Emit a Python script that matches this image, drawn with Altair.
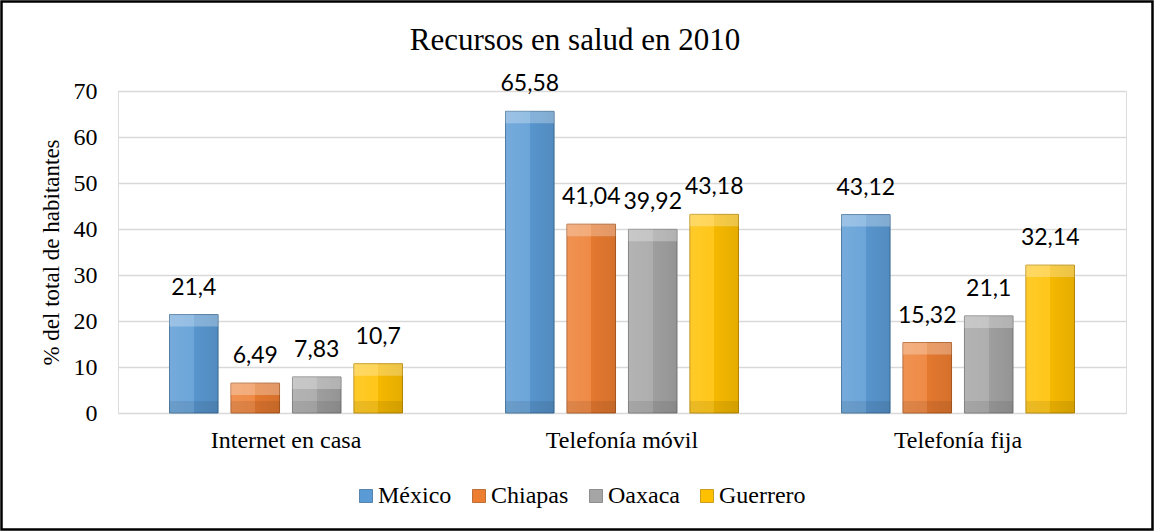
import altair as alt
import pandas as pd

categories = ["Internet en casa", "Telefonía móvil", "Telefonía fija"]
series = ["México", "Chiapas", "Oaxaca", "Guerrero"]
mexico = [21.4, 65.58, 43.12]
chiapas = [6.49, 41.04, 15.32]
oaxaca = [7.83, 39.92, 21.1]
guerrero = [10.7, 43.18, 32.14]
colors = ["#5B9BD5", "#ED7D31", "#A5A5A5", "#FFC000"]
strokes = ["#41719C", "#AE5A21", "#7C7C7C", "#BC8C00"]

rows = []
for s, vals in zip(series, [mexico, chiapas, oaxaca, guerrero]):
    for c, v in zip(categories, vals):
        rows.append({"cat": c, "serie": s, "valor": v})
df = pd.DataFrame(rows)

W, H = 1008, 322
SERIF = "Liberation Serif"

xenc = alt.X("cat:N", sort=categories, title=None,
             scale=alt.Scale(paddingInner=0.27, paddingOuter=0.135),
             axis=alt.Axis(labelAngle=0, labelFont=SERIF, labelFontSize=24,
                           labelColor="#000000", labelPadding=15, domain=False, ticks=False))
xoff = alt.XOffset("serie:N", sort=series,
                   scale=alt.Scale(paddingInner=0.21, paddingOuter=0.1))

base = alt.Chart(df).encode(x=xenc, xOffset=xoff)

bars = base.mark_bar(strokeWidth=1).encode(
    y=alt.Y("valor:Q", title="% del total de habitantes",
            scale=alt.Scale(domain=[0, 70]),
            axis=alt.Axis(values=[0, 10, 20, 30, 40, 50, 60, 70], labelFont=SERIF,
                          labelFontSize=24, labelColor="#000000", labelPadding=21,
                          titleFont=SERIF, titleFontSize=23, titleFontWeight="normal",
                          titleColor="#000000", titlePadding=10,
                          domain=False, ticks=False, gridColor="#D9D9D9", gridWidth=1.5)),
    color=alt.Color("serie:N", sort=series, title=None,
                    scale=alt.Scale(domain=series, range=colors),
                    legend=alt.Legend(orient="none", direction="horizontal",
                                      legendX=236, legendY=393, padding=0,
                                      symbolType="square", symbolSize=169,
                                      symbolStrokeWidth=0.8,
                                      labelFont=SERIF, labelFontSize=24,
                                      labelColor="#000000", labelOffset=0,
                                      columnPadding=15)),
    stroke=alt.Stroke("serie:N", sort=series,
                      scale=alt.Scale(domain=series, range=strokes), legend=None),
)

side = base.mark_bar(
    fill=alt.Gradient(gradient="linear", x1=0, x2=1, y1=0, y2=0,
                      stops=[alt.GradientStop(offset=0, color="rgba(255,255,255,0.16)"),
                             alt.GradientStop(offset=0.5, color="rgba(255,255,255,0.10)"),
                             alt.GradientStop(offset=0.5, color="rgba(0,0,0,0.04)"),
                             alt.GradientStop(offset=1, color="rgba(0,0,0,0.10)")])
).encode(y="valor:Q")

top = base.transform_calculate(
    ylo="max(datum.valor - 2.6, datum.valor * 0.5)"
).mark_bar(fill="rgba(255,255,255,0.28)").encode(y="valor:Q", y2=alt.Y2("ylo"))

bottom = base.transform_calculate(
    yhi="min(2.6, datum.valor * 0.5)", cero="0"
).mark_bar(fill="rgba(0,0,0,0.08)").encode(y="cero:Q", y2=alt.Y2("yhi"))

labels = base.transform_calculate(
    lab="replace(toString(datum.valor), '.', ',')"
).mark_text(font="Lato", fontSize=23, color="#000000", baseline="alphabetic", dy=-20).encode(
    y="valor:Q", text="lab:N")

border = alt.Chart(pd.DataFrame({"k": [0]})).mark_rect(
    fill=None, stroke="#000000", strokeWidth=2.5).encode(
    x=alt.value(-116.5), x2=alt.value(1034.5), y=alt.value(-89.5), y2=alt.value(438.5))

chart = alt.layer(bars, side, top, bottom, labels, border).properties(
    width=W, height=H,
    title=alt.Title("Recursos en salud en 2010", font=SERIF, fontSize=31,
                    fontWeight="normal", color="#000000", anchor="middle", dx=-47,
                    baseline="alphabetic", offset=-80.5),
    autosize=alt.AutoSizeParams(type="none"),
    padding={"left": 118, "top": 91, "right": 28, "bottom": 118},
).configure_view(stroke=None).configure(background="#FFFFFF")

chart.save("out.html", embed_options={"renderer": "svg", "actions": False})
